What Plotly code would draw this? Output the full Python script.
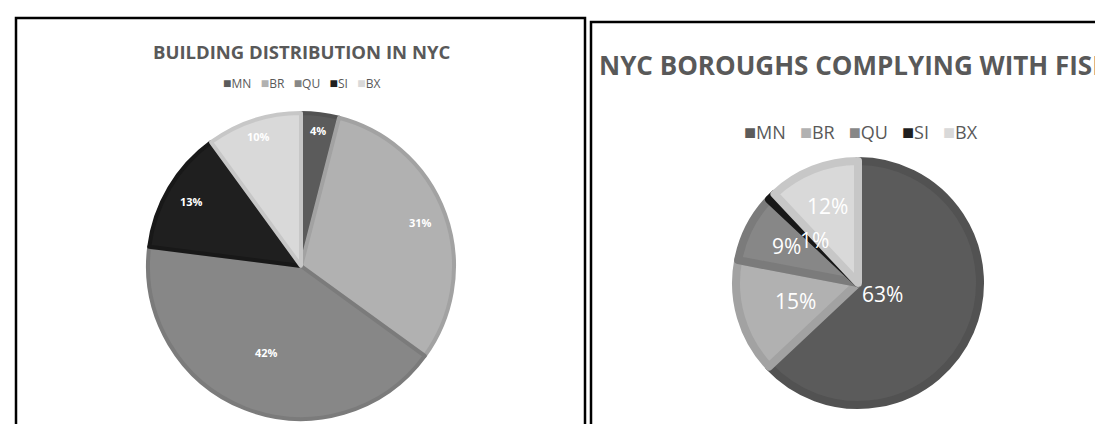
import math
import plotly.graph_objects as go

W, H = 1103, 424

boroughs = ["MN", "BR", "QU", "SI", "BX"]
building_share = [4, 31, 42, 13, 10]
fisp_share = [63, 15, 9, 1, 12]

fill_colors = ["#5b5b5b", "#b1b1b1", "#878787", "#1f1f1f", "#d9d9d9"]
edge_colors = ["#525252", "#a2a2a2", "#7b7b7b", "#181818", "#c7c7c7"]

title_left = "BUILDING DISTRIBUTION IN NYC"
title_right = "NYC BOROUGHS COMPLYING WITH FISP"

# label placement (fraction of radius, Excel "best fit" look)
left_label_r = [0.89, 0.83, 0.61, 0.83, 0.89]
right_label_r = [0.22, 0.53, 0.66, 0.50, 0.68]

def px(x):
    return x / W

def py(y):
    return 1 - y / H

def legend_text(size_sq, gap):
    parts = []
    for name, col in zip(boroughs, fill_colors):
        parts.append(f'<span style="color:{col};font-size:{size_sq}px">■</span>{name}')
    return ("&nbsp;" * gap).join(parts)

def pie_labels(values, cx, cy, r, fracs, font):
    total = sum(values)
    anns = []
    cum = 0
    for v, f in zip(values, fracs):
        mid = (cum + v / 2) / total * 2 * math.pi
        cum += v
        x = cx + f * r * math.sin(mid)
        y = cy - f * r * math.cos(mid)
        anns.append(dict(text=f"{round(100 * v / total)}%", x=px(x), y=py(y),
                         xref="paper", yref="paper", showarrow=False,
                         xanchor="center", yanchor="middle", font=font))
    return anns

L_CX, L_CY, L_R = 293, 258, 153
R_CX, R_CY, R_R = 850, 275, 122

fig = go.Figure()

fig.add_trace(go.Pie(
    labels=boroughs, values=building_share, sort=False, direction="clockwise",
    rotation=0,
    marker=dict(colors=fill_colors, line=dict(color=edge_colors, width=4)),
    textinfo="none",
    domain=dict(x=[px(L_CX - L_R), px(L_CX + L_R)], y=[py(L_CY + L_R), py(L_CY - L_R)]),
    showlegend=False, hoverinfo="label+percent",
))

fig.add_trace(go.Pie(
    labels=boroughs, values=fisp_share, sort=False, direction="clockwise",
    rotation=0,
    marker=dict(colors=fill_colors, line=dict(color=edge_colors, width=8)),
    textinfo="none",
    domain=dict(x=[px(R_CX - R_R), px(R_CX + R_R)], y=[py(R_CY + R_R), py(R_CY - R_R)]),
    showlegend=False, hoverinfo="label+percent",
))

annotations = [
    dict(text=title_left, x=px(293), y=py(44), xref="paper", yref="paper",
         showarrow=False, xanchor="center", yanchor="middle",
         font=dict(family="Open Sans", size=18.5, color="#595959", weight="bold")),
    dict(text=legend_text(14, 3), x=px(294), y=py(75), xref="paper", yref="paper",
         showarrow=False, xanchor="center", yanchor="middle",
         font=dict(family="Open Sans", size=12, color="#595959")),
    dict(text=title_right, x=px(589), y=py(57), xref="paper", yref="paper",
         showarrow=False, xanchor="left", yanchor="middle",
         font=dict(family="Open Sans", size=26, color="#595959", weight="bold")),
    dict(text=legend_text(20, 3), x=px(853), y=py(123), xref="paper", yref="paper",
         showarrow=False, xanchor="center", yanchor="middle",
         font=dict(family="Open Sans", size=18, color="#595959")),
]
annotations += pie_labels(building_share, L_CX, L_CY, L_R, left_label_r,
                          dict(family="Open Sans", size=11, color="white", weight="bold"))
annotations += pie_labels(fisp_share, R_CX, R_CY, R_R, right_label_r,
                          dict(family="Open Sans", size=21, color="white"))

shapes = [
    dict(type="rect", xref="paper", yref="paper", x0=px(8), x1=px(577), y0=py(10), y1=py(440),
         line=dict(color="black", width=2.5), fillcolor="rgba(0,0,0,0)"),
    dict(type="rect", xref="paper", yref="paper", x0=px(583), x1=px(1120), y0=py(14), y1=py(440),
         line=dict(color="black", width=2.5), fillcolor="rgba(0,0,0,0)"),
]

fig.update_layout(
    width=W, height=H, margin=dict(l=0, r=0, t=0, b=0),
    paper_bgcolor="white", plot_bgcolor="white",
    annotations=annotations, shapes=shapes,
)

fig.write_html("out.html")
